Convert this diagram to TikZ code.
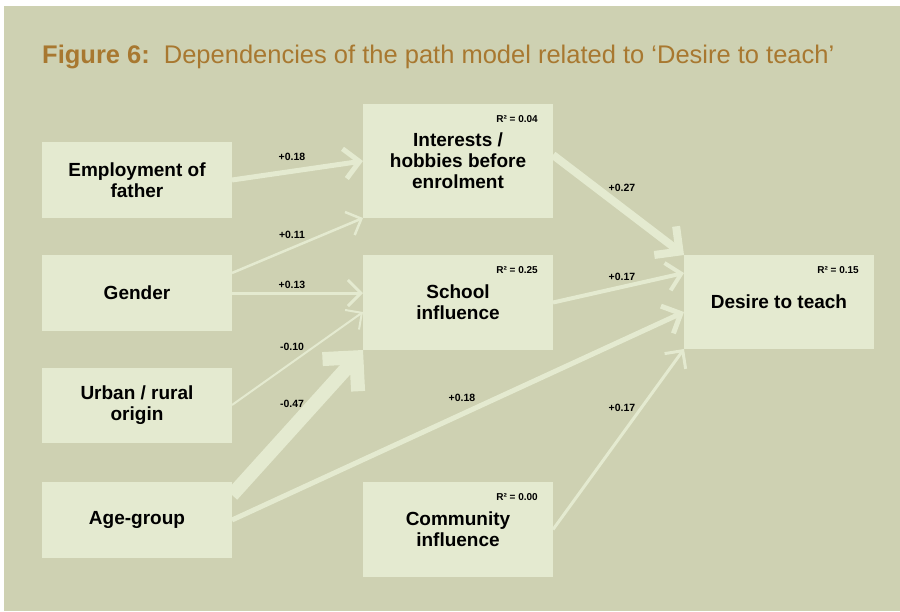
\documentclass[tikz,border=0pt]{standalone}
\usepackage{fontspec}
\setmainfont{Liberation Sans}
\usepackage{xcolor}
\usepackage{tikz}
\usetikzlibrary{calc,arrows.meta}

\definecolor{bgc}{RGB}{206,209,178}
\definecolor{boxc}{RGB}{228,234,208}
\definecolor{titlec}{RGB}{168,120,48}

\begin{document}
\begin{tikzpicture}[x=1pt, y=-1pt,
  var/.style={fill=boxc, inner sep=0pt, outer sep=0pt, minimum width=190pt, align=center, font=\fontsize{19}{21}\selectfont\bfseries},
  rsq/.style={anchor=base east, inner sep=0pt, font=\fontsize{10}{12}\selectfont\bfseries},
  wt/.style={inner sep=0pt, font=\fontsize{10.5}{12}\selectfont\bfseries},
  effect/.style={draw=boxc, -{Straight Barb[length=10pt 1, width=20pt 2]}}]
  \useasboundingbox (0,0) rectangle (900,611);
  \fill[white] (0,0) rectangle (900,611);
  \fill[bgc] (4,6) rectangle (900,611);
  \node[anchor=base west, inner sep=0pt, text=titlec, font=\fontsize{25.5}{28}\selectfont] (title) at (42,63.3) {\textbf{Figure 6:}\hspace{14pt}Dependencies of the path model related to ‘Desire to teach’};
  % exogenous variables
  \node[var, minimum height=76pt] (emp) at (137,180) {Employment of\\father};
  \node[var, minimum height=76pt] (gen) at (137,293) {Gender};
  \node[var, minimum height=75pt] (urb) at (137,405.5) {Urban / rural\\origin};
  \node[var, minimum height=76pt] (age) at (137,520) {Age-group};
  % endogenous variables
  \node[var, minimum height=114pt] (int) at (458,161) {Interests /\\hobbies before\\enrolment};
  \node[var, minimum height=95pt] (sch) at (458,302.5) {School\\influence};
  \node[var, minimum height=95pt] (com) at (458,529.5) {Community\\influence};
  \node[var, minimum height=94pt] (des) at (779,302) {Desire to teach};
  \node[rsq] (r2int) at ($(int.north east)+(-15,18.5)$) {R² = 0.04};
  \node[rsq] (r2sch) at ($(sch.north east)+(-15,18.5)$) {R² = 0.25};
  \node[rsq] (r2com) at ($(com.north east)+(-15,18.5)$) {R² = 0.00};
  \node[rsq] (r2des) at ($(des.north east)+(-15,18.5)$) {R² = 0.15};
  % paths
  \draw[effect, line width=5pt] (emp.east) -- (int.west);
  \draw[effect, line width=2.5pt] ($(gen.north east)+(0,18)$) -- (int.south west);
  \draw[effect, line width=3pt] ($(gen.east)$) -- ($(sch.west)+(0,-9.5)$);
  \draw[effect, line width=2pt] ($(urb.east)+(0,-0.5)$) -- ($(sch.west)+(0,9.5)$);
  \draw[effect, line width=14pt] ($(age.north east)+(0,13)$) -- (sch.south west);
  \draw[effect, line width=5pt] (age.east) -- ($(des.west)+(0,10)$);
  \draw[effect, line width=8pt] ($(int.east)+(0,-6)$) -- (des.north west);
  \draw[effect, line width=4pt] (sch.east) -- ($(des.west)+(0,-29)$);
  \draw[effect, line width=3pt] (com.east) -- (des.south west);
  % path coefficients
  \node[wt] (w1) at (292,157) {+0.18};
  \node[wt] (w2) at (292,235) {+0.11};
  \node[wt] (w3) at (292,285) {+0.13};
  \node[wt] (w4) at (292,347) {-0.10};
  \node[wt] (w5) at (292,404) {-0.47};
  \node[wt] (w6) at (622,188) {+0.27};
  \node[wt] (w7) at (622,277) {+0.17};
  \node[wt] (w8) at (462,398) {+0.18};
  \node[wt] (w9) at (622,408) {+0.17};
\end{tikzpicture}
\end{document}
